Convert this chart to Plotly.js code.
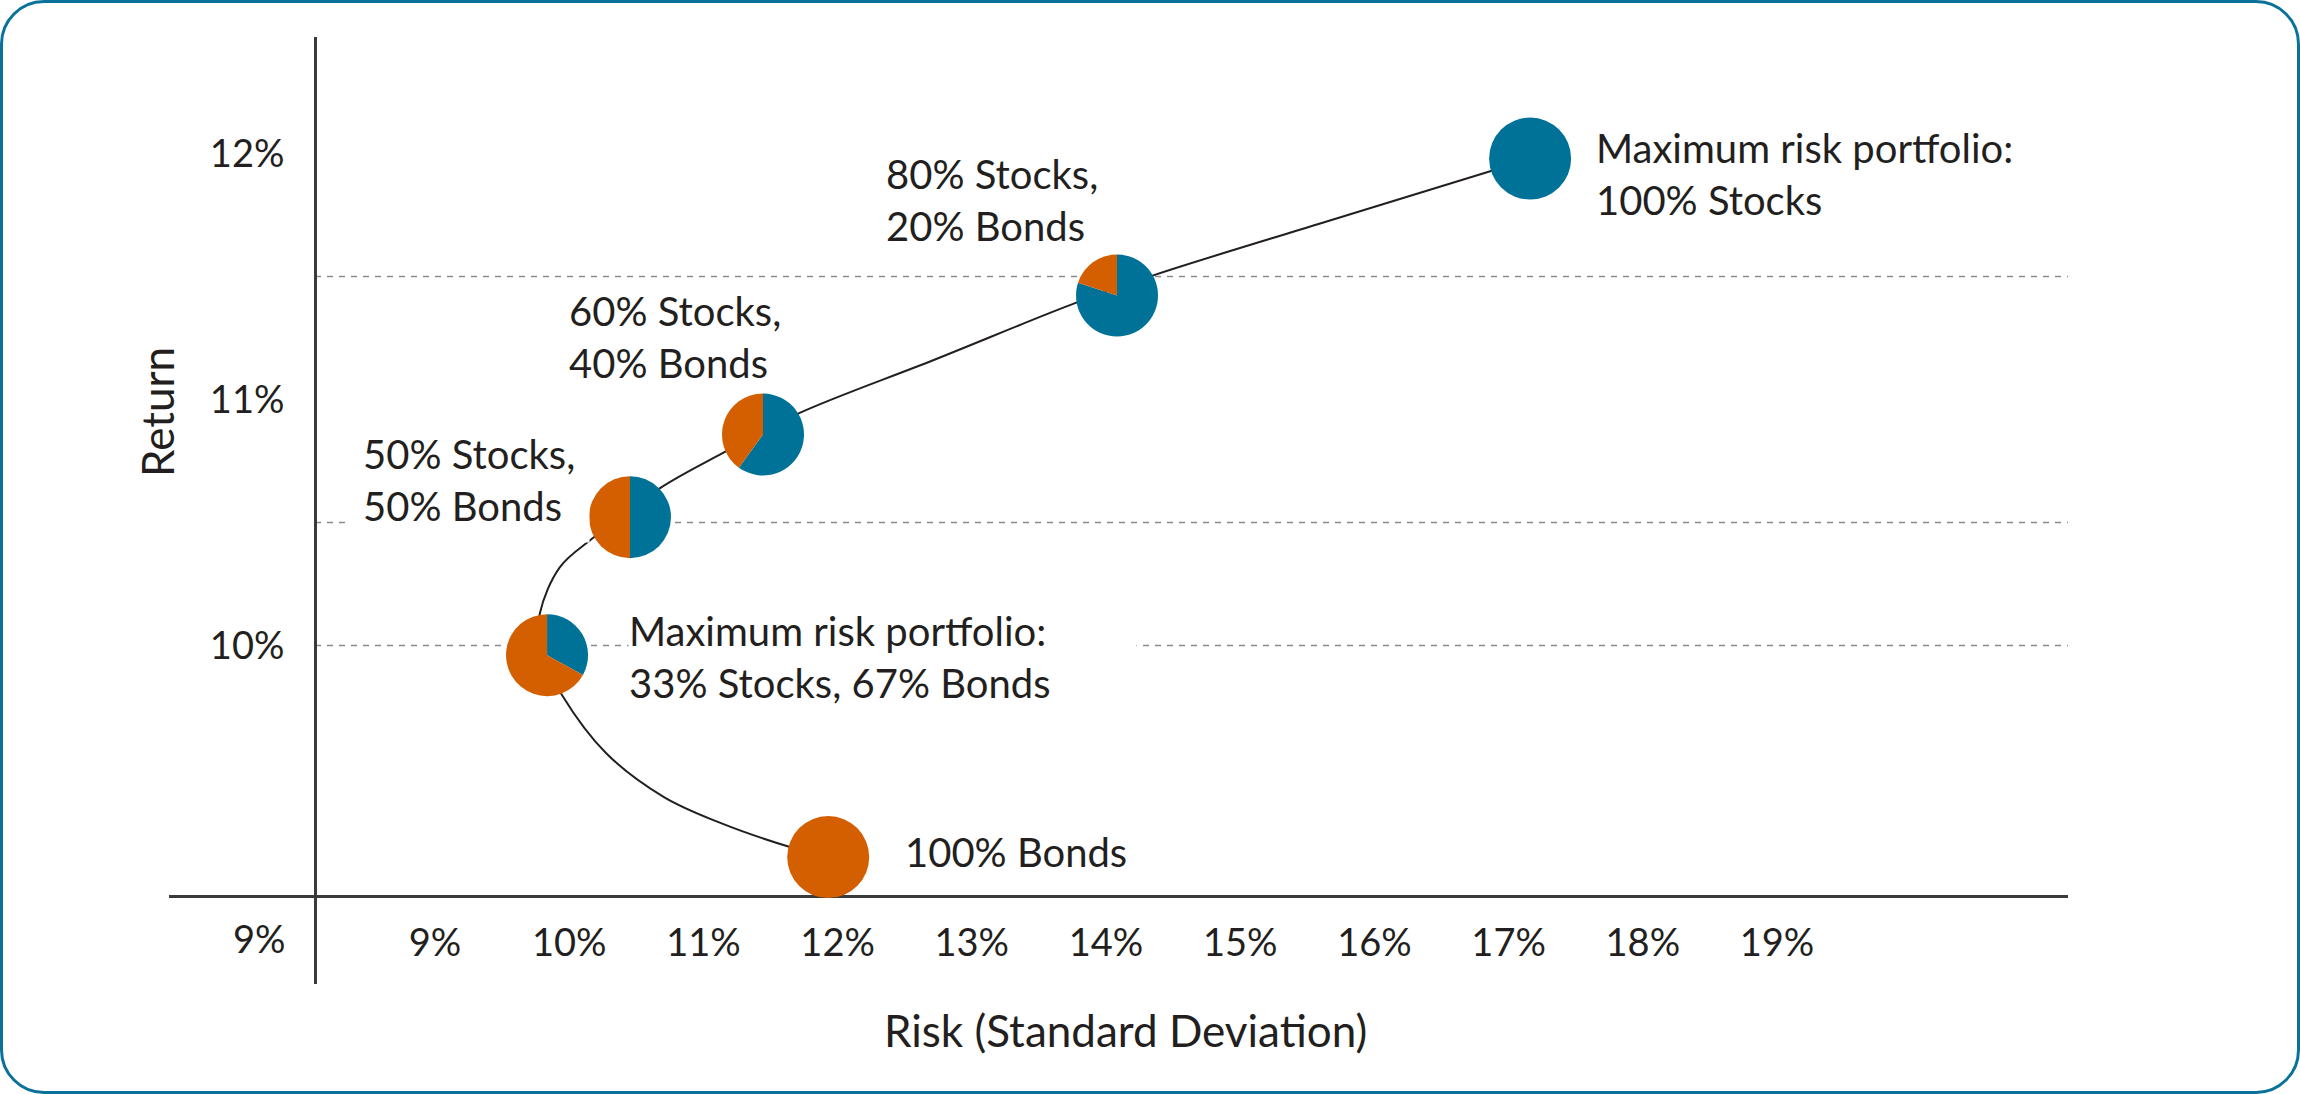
<!DOCTYPE html>
<html>
<head>
<meta charset="utf-8">
<script src="https://cdn.plot.ly/plotly-3.0.1.min.js"></script>
<style>
html, body { margin: 0; padding: 0; background: #ffffff; }
#wrap { position: relative; width: 2300px; height: 1094px; }
#chart { width: 2300px; height: 1094px; }
#frame { position: absolute; left: 0; top: 0; width: 2300px; height: 1094px; box-sizing: border-box;
         border: 3px solid #0a7299; border-radius: 44px; pointer-events: none; }
</style>
</head>
<body>
<div id="wrap"><div id="chart"></div><div id="frame"></div></div>
<script>
// ---------------- data ----------------
const xTickVals = [9, 10, 11, 12, 13, 14, 15, 16, 17, 18, 19];
const xTickText = ['9%', '10%', '11%', '12%', '13%', '14%', '15%', '16%', '17%', '18%', '19%'];
const yTickVals = [10, 11, 12];
const yTickText = ['10%', '11%', '12%'];
const yLowTickVal = 9;
const yLowTickText = '9%';
const gridReturns = [10, 10.5, 11.5];

// efficient frontier (risk %, return %)
const curveRisk   = [11.93, 11.645, 11.131, 10.706, 10.274, 9.946, 9.775, 9.782, 9.931, 10.177, 10.677, 11.146, 11.697, 12.726, 13.769, 14.358, 15.602, 16.869, 17.16];
const curveReturn = [9.14, 9.181, 9.278, 9.384, 9.563, 9.799, 9.990, 10.132, 10.319, 10.437, 10.640, 10.783, 10.941, 11.163, 11.392, 11.506, 11.717, 11.929, 11.98];

// portfolios
const portfolioRisk   = [11.93, 9.835, 10.453, 11.444, 14.082, 17.16];
const portfolioReturn = [9.14, 9.961, 10.522, 10.858, 11.423, 11.98];
const stockShare = [0, 33, 50, 60, 80, 100];
const bondShare  = [100, 67, 50, 40, 20, 0];
const sliceLabels = ['Stocks', 'Bonds'];
const portfolioLabels = [
  '100% Bonds',
  'Maximum risk portfolio:<br>33% Stocks, 67% Bonds',
  '50% Stocks,<br>50% Bonds',
  '60% Stocks,<br>40% Bonds',
  '80% Stocks,<br>20% Bonds',
  'Maximum risk portfolio:<br>100% Stocks'
];
const xTitle = 'Risk (Standard Deviation)';
const yTitle = 'Return';

// ---------------- styling / layout ----------------
const BLUE = '#007298';
const ORANGE = '#D35F00';
const INK = '#231f20';
const FONT = 'Lato, "Open Sans", sans-serif';

const W = 2300, H = 1094;
const M = { l: 169, r: 232, t: 37, b: 110 };
const plotW = W - M.l - M.r, plotH = H - M.t - M.b;
const xRange = [7.018, 21.168];
const yRange = [8.624, 12.474];

const fx = v => (v - xRange[0]) / (xRange[1] - xRange[0]);   // data -> paper x
const fy = v => (v - yRange[0]) / (yRange[1] - yRange[0]);   // data -> paper y
const px = p => (p - M.l) / plotW;                            // pixel -> paper x (layout placement)
const py = p => (H - M.b - p) / plotH;                        // pixel -> paper y (layout placement)

const yAxisPos = px(315);
const xAxisPos = fy(yLowTickVal) - 4.5 / plotH;
const PIE_R = 41;

const traces = [];
traces.push({
  type: 'scatter', mode: 'lines', x: curveRisk, y: curveReturn,
  line: { color: INK, width: 2, shape: 'spline', smoothing: 1 },
  hoverinfo: 'skip', showlegend: false
});

for (let i = 0; i < portfolioRisk.length; i++) {
  const cx = fx(portfolioRisk[i]), cy = fy(portfolioReturn[i]);
  const rx = PIE_R / plotW, ry = PIE_R / plotH;
  traces.push({
    type: 'pie',
    values: [stockShare[i], bondShare[i]],
    labels: sliceLabels,
    marker: { colors: [BLUE, ORANGE], line: { width: 0 } },
    sort: false, direction: 'clockwise', rotation: 0,
    textinfo: 'none', showlegend: false, hoverinfo: 'label+percent',
    domain: { x: [cx - rx, cx + rx], y: [cy - ry, cy + ry] }
  });
}

const shapes = gridReturns.map(v => ({
  type: 'line', xref: 'paper', yref: 'y', x0: yAxisPos, x1: 1, y0: v, y1: v,
  line: { color: '#8c8c8c', width: 1.5, dash: '6px,6px' }, layer: 'below'
}));

const labelFont = { family: FONT, size: 40, color: INK };
const annotations = [
  // portfolio labels
  { text: portfolioLabels[0], xref: 'paper', yref: 'paper', x: px(903), y: py(852), xanchor: 'left', yanchor: 'middle', align: 'left', showarrow: false, font: labelFont },
  { text: portfolioLabels[1], xref: 'paper', yref: 'paper', x: px(628), y: py(657), xanchor: 'left', yanchor: 'middle', align: 'left', showarrow: false, font: labelFont, bgcolor: '#ffffff', width: 507, borderpad: 0 },
  { text: portfolioLabels[2], xref: 'paper', yref: 'paper', x: px(350), y: py(480), xanchor: 'left', yanchor: 'middle', align: 'left', showarrow: false, font: labelFont, bgcolor: '#ffffff', width: 214, borderpad: 12 },
  { text: portfolioLabels[3], xref: 'paper', yref: 'paper', x: px(567), y: py(337), xanchor: 'left', yanchor: 'middle', align: 'left', showarrow: false, font: labelFont },
  { text: portfolioLabels[4], xref: 'paper', yref: 'paper', x: px(884), y: py(200), xanchor: 'left', yanchor: 'middle', align: 'left', showarrow: false, font: labelFont },
  { text: portfolioLabels[5], xref: 'paper', yref: 'paper', x: px(1594), y: py(174), xanchor: 'left', yanchor: 'middle', align: 'left', showarrow: false, font: labelFont },
  // lowest y tick label, drawn on the tick-label row
  { text: yLowTickText, xref: 'paper', yref: 'y', x: yAxisPos, y: yLowTickVal, xanchor: 'right', yanchor: 'middle', xshift: -27, yshift: -46, showarrow: false, font: { family: FONT, size: 38, color: INK } },
  // axis titles
  { text: xTitle, xref: 'paper', yref: 'paper', x: px(1125), y: py(1030), xanchor: 'center', yanchor: 'middle', showarrow: false, font: { family: FONT, size: 44, color: INK } },
  { text: yTitle, xref: 'paper', yref: 'paper', x: px(157), y: py(412), xanchor: 'center', yanchor: 'middle', textangle: -90, showarrow: false, font: { family: FONT, size: 44, color: INK } }
];

const layout = {
  width: W, height: H,
  margin: M,
  paper_bgcolor: '#ffffff', plot_bgcolor: 'rgba(0,0,0,0)',
  showlegend: false,
  font: { family: FONT, color: INK },
  xaxis: {
    range: xRange, anchor: 'free', position: xAxisPos,
    showline: true, linecolor: '#3a3a3a', linewidth: 3,
    showgrid: false, zeroline: false,
    tickmode: 'array', tickvals: xTickVals, ticktext: xTickText,
    ticks: 'outside', ticklen: 12, tickcolor: 'rgba(0,0,0,0)',
    tickfont: { family: FONT, size: 38, color: INK }, fixedrange: true
  },
  yaxis: {
    range: yRange, anchor: 'free', position: yAxisPos,
    showline: true, linecolor: '#3a3a3a', linewidth: 2.5,
    showgrid: false, zeroline: false,
    tickmode: 'array', tickvals: yTickVals, ticktext: yTickText,
    ticks: 'outside', ticklen: 22, tickcolor: 'rgba(0,0,0,0)',
    tickfont: { family: FONT, size: 38, color: INK }, fixedrange: true
  },
  shapes: shapes,
  annotations: annotations
};

Plotly.newPlot('chart', traces, layout, { displayModeBar: false, staticPlot: true });
</script>
</body>
</html>
